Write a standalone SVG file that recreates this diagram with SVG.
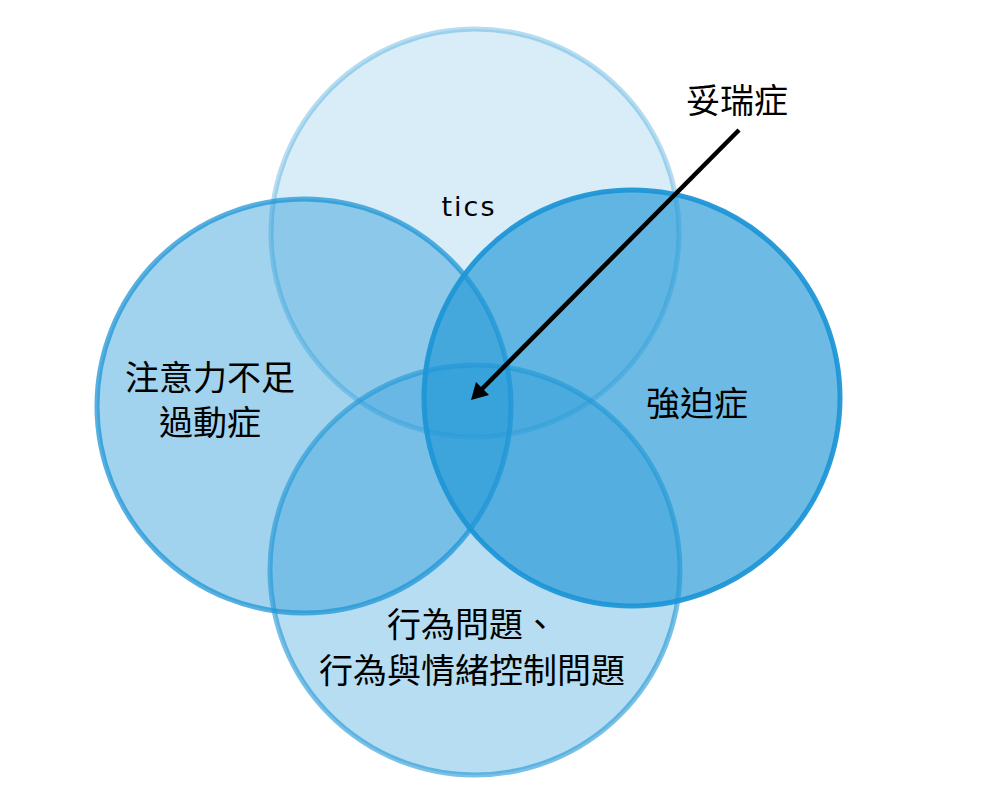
<svg xmlns="http://www.w3.org/2000/svg" width="998" height="809" viewBox="0 0 998 809">
<style>
.c{stroke-width:5}
.t{font-family:"Noto Sans CJK TC","Noto Sans CJK SC",sans-serif;font-size:34px;fill:#000;text-anchor:middle}
.l{font-family:"DejaVu Sans","Liberation Sans",sans-serif;font-size:27px;letter-spacing:2px;fill:#000;text-anchor:middle}
</style>
<rect width="998" height="809" fill="#fff"/>
<g id="tics">
<circle class="c" cx="475" cy="233" r="204" fill="#1f96d6" fill-opacity="0.17" stroke="#1f96d6" stroke-opacity="0.33"/>
<text class="l" x="469" y="216">tics</text>
</g>
<g id="adhd">
<circle class="c" cx="304" cy="406" r="207" fill="#1f96d6" fill-opacity="0.42" stroke="#1f96d6" stroke-opacity="0.75"/>
<text class="t" x="210" y="390">注意力不足</text>
<text class="t" x="210" y="435">過動症</text>
</g>
<g id="behavior">
<circle class="c" cx="475" cy="570" r="205" fill="#1f96d6" fill-opacity="0.32" stroke="#1f96d6" stroke-opacity="0.6"/>
<text class="t" x="472" y="637">行為問題、</text>
<text class="t" x="472" y="683">行為與情緒控制問題</text>
</g>
<g id="ocd">
<circle class="c" cx="632" cy="398" r="208" fill="#1f96d6" fill-opacity="0.65" stroke="#1f96d6" stroke-opacity="0.95"/>
<text class="t" x="697" y="416">強迫症</text>
</g>
<g id="tourette">
<text class="t" x="737" y="113">妥瑞症</text>
</g>
<g id="connectors">
<path d="M739,130 L476,395" stroke="#000" stroke-width="4.5" fill="none"/>
<path d="M471,400 L476,382 L489,395 Z" fill="#000"/>
</g>
</svg>
